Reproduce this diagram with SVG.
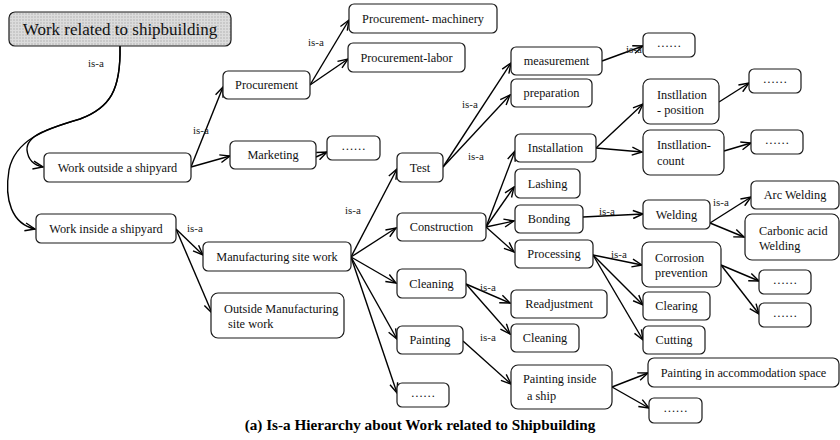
<svg xmlns="http://www.w3.org/2000/svg" width="840" height="440" viewBox="0 0 840 440">
  <defs>
    <style>
      .box { fill: #ffffff; stroke: #1a1a1a; stroke-width: 1.2; }
      .t { font-family: "Liberation Serif", "Times New Roman", serif; font-size: 12.3px; fill: #111; }
      .c { text-anchor: middle; }
      .isa { font-family: "Liberation Serif", "Times New Roman", serif; font-size: 11px; fill: #222; }
      .edge { fill: none; stroke: #000; stroke-width: 1.4; marker-end: url(#arr); }
      .cap { font-family: "Liberation Serif", "Times New Roman", serif; font-size: 15.2px; font-weight: bold; fill: #000; text-anchor: middle; }
    </style>
    <marker id="arr" viewBox="0 0 12 10" refX="11" refY="5" markerWidth="12" markerHeight="10" orient="auto" markerUnits="userSpaceOnUse">
      <path d="M1,1 L11,5 L1,9" fill="none" stroke="#000" stroke-width="1.4"/>
    </marker>
    <pattern id="grid" width="3" height="3" patternUnits="userSpaceOnUse">
      <rect width="3" height="3" fill="#c9c9c9"/>
      <path d="M0,0.5 H3 M0.5,0 V3" stroke="#dcdcdc" stroke-width="1"/>
    </pattern>
  </defs>

  <rect width="840" height="440" fill="#ffffff"/>

  <!-- connectors -->
  <g id="connectors">
    <path class="edge" d="M120,46 C121,90 110,108 80,119 C50,128 26,135 27,150 C28,160 33,165 43,167"/>
    <path class="edge" d="M120,46 C121,90 110,108 80,119 C45,129 15,140 9,170 C4,200 12,224 35,229"/>
    <path class="edge" d="M191,167 L223,87"/>
    <path class="edge" d="M191,167 L230,156"/>
    <path class="edge" d="M310,85 L349,20"/>
    <path class="edge" d="M310,85 L348,59"/>
    <path class="edge" d="M316,157 L327,152"/>
    <path class="edge" d="M176,229 L203,255"/>
    <path class="edge" d="M176,229 L212,313"/>
    <path class="edge" d="M351,257 L397,169"/>
    <path class="edge" d="M351,257 L396,228"/>
    <path class="edge" d="M351,257 L396,283"/>
    <path class="edge" d="M351,257 L397,339"/>
    <path class="edge" d="M351,257 L397,393"/>
    <path class="edge" d="M443,167 L511,63"/>
    <path class="edge" d="M443,167 L510,95"/>
    <path class="edge" d="M602,61 L643,46"/>
    <path class="edge" d="M486,227 L515,151"/>
    <path class="edge" d="M486,227 L514,187"/>
    <path class="edge" d="M486,227 L514,221"/>
    <path class="edge" d="M486,227 L514,252"/>
    <path class="edge" d="M596,148 L643,104"/>
    <path class="edge" d="M596,148 L642,152"/>
    <path class="edge" d="M719,102 L749,83"/>
    <path class="edge" d="M724,151 L751,143"/>
    <path class="edge" d="M583,217 L643,214"/>
    <path class="edge" d="M710,223 L751,197"/>
    <path class="edge" d="M710,223 L744,237"/>
    <path class="edge" d="M593,255 L642,265"/>
    <path class="edge" d="M593,255 L643,305"/>
    <path class="edge" d="M593,255 L643,340"/>
    <path class="edge" d="M721,265 L759,281"/>
    <path class="edge" d="M721,265 L759,314"/>
    <path class="edge" d="M466,284 L510,303"/>
    <path class="edge" d="M466,284 L510,334"/>
    <path class="edge" d="M463,341 L511,384"/>
    <path class="edge" d="M612,387 L648,373"/>
    <path class="edge" d="M612,387 L649,408"/>

    <text class="isa" x="88" y="67">is-a</text>
    <text class="isa" x="193" y="134">is-a</text>
    <text class="isa" x="308" y="46">is-a</text>
    <text class="isa" x="187" y="232">is-a</text>
    <text class="isa" x="345" y="214">is-a</text>
    <text class="isa" x="462" y="108">is-a</text>
    <text class="isa" x="468" y="160">is-a</text>
    <text class="isa" x="626" y="53">is-a</text>
    <text class="isa" x="599" y="215">is-a</text>
    <text class="isa" x="713" y="206">is-a</text>
    <text class="isa" x="611" y="258">is-a</text>
    <text class="isa" x="480" y="291">is-a</text>
    <text class="isa" x="480" y="341">is-a</text>
  </g>

  <!-- nodes -->
  <g id="root">
    <rect x="9" y="12" width="222" height="34" rx="6" fill="url(#grid)" stroke="#1a1a1a" stroke-width="1.2"/>
    <text class="t c" x="120" y="35" style="font-size:17px">Work related to shipbuilding</text>
  </g>
  <g id="procurement">
    <rect class="box" x="223" y="71" width="87" height="28" rx="5"/>
    <text class="t c" x="266.5" y="89">Procurement</text>
  </g>
  <g id="procurement-machinery">
    <rect class="box" x="349" y="4" width="148" height="29" rx="5"/>
    <text class="t c" x="423" y="23">Procurement- machinery</text>
  </g>
  <g id="procurement-labor">
    <rect class="box" x="348" y="43" width="117" height="29" rx="5"/>
    <text class="t c" x="406.5" y="62">Procurement-labor</text>
  </g>
  <g id="marketing">
    <rect class="box" x="230" y="141" width="86" height="28" rx="5"/>
    <text class="t c" x="273" y="159">Marketing</text>
  </g>
  <g id="marketing-more">
    <rect class="box" x="327" y="136" width="53" height="24" rx="5"/>
    <text class="t c" x="353.5" y="150">……</text>
  </g>
  <g id="work-outside">
    <rect class="box" x="44" y="153" width="147" height="29" rx="5"/>
    <text class="t c" x="117.5" y="172">Work outside a shipyard</text>
  </g>
  <g id="work-inside">
    <rect class="box" x="36" y="214" width="140" height="29" rx="5"/>
    <text class="t c" x="106" y="233">Work inside a shipyard</text>
  </g>
  <g id="manufacturing-site">
    <rect class="box" x="203" y="242" width="148" height="29" rx="5"/>
    <text class="t c" x="277" y="261">Manufacturing site work</text>
  </g>
  <g id="outside-manufacturing">
    <rect class="box" x="211" y="293" width="133" height="45" rx="7"/>
    <text class="t" x="224" y="313">Outside Manufacturing</text>
    <text class="t" x="228" y="328">site work</text>
  </g>
  <g id="test">
    <rect class="box" x="397" y="153" width="46" height="29" rx="5"/>
    <text class="t c" x="420" y="172">Test</text>
  </g>
  <g id="construction">
    <rect class="box" x="397" y="213" width="89" height="28" rx="5"/>
    <text class="t c" x="441.5" y="231">Construction</text>
  </g>
  <g id="cleaning">
    <rect class="box" x="397" y="269" width="69" height="29" rx="5"/>
    <text class="t c" x="431.5" y="288">Cleaning</text>
  </g>
  <g id="painting">
    <rect class="box" x="397" y="326" width="66" height="28" rx="5"/>
    <text class="t c" x="430" y="344">Painting</text>
  </g>
  <g id="site-more">
    <rect class="box" x="397" y="383" width="52" height="24" rx="5"/>
    <text class="t c" x="423" y="397">……</text>
  </g>
  <g id="measurement">
    <rect class="box" x="511" y="47" width="91" height="28" rx="5"/>
    <text class="t c" x="556.5" y="65">measurement</text>
  </g>
  <g id="preparation">
    <rect class="box" x="511" y="79" width="81" height="28" rx="5"/>
    <text class="t c" x="551.5" y="97">preparation</text>
  </g>
  <g id="measurement-more">
    <rect class="box" x="643" y="33" width="52" height="24" rx="5"/>
    <text class="t c" x="669" y="47">……</text>
  </g>
  <g id="installation">
    <rect class="box" x="515" y="134" width="81" height="28" rx="5"/>
    <text class="t c" x="555.5" y="152">Installation</text>
  </g>
  <g id="lashing">
    <rect class="box" x="515" y="169" width="65" height="29" rx="5"/>
    <text class="t c" x="547.5" y="188">Lashing</text>
  </g>
  <g id="bonding">
    <rect class="box" x="515" y="205" width="68" height="28" rx="5"/>
    <text class="t c" x="549" y="223">Bonding</text>
  </g>
  <g id="processing">
    <rect class="box" x="515" y="240" width="78" height="28" rx="5"/>
    <text class="t c" x="554" y="258">Processing</text>
  </g>
  <g id="readjustment">
    <rect class="box" x="511" y="290" width="96" height="28" rx="5"/>
    <text class="t c" x="559" y="308">Readjustment</text>
  </g>
  <g id="cleaning-sub">
    <rect class="box" x="511" y="324" width="68" height="28" rx="5"/>
    <text class="t c" x="545" y="342">Cleaning</text>
  </g>
  <g id="painting-inside">
    <rect class="box" x="511" y="365" width="101" height="44" rx="7"/>
    <text class="t" x="523" y="383">Painting inside</text>
    <text class="t" x="527" y="400">a ship</text>
  </g>
  <g id="installation-position">
    <rect class="box" x="643" y="79" width="76" height="45" rx="7"/>
    <text class="t" x="657" y="99">Instllation</text>
    <text class="t" x="657" y="114">- position</text>
  </g>
  <g id="position-more">
    <rect class="box" x="749" y="69" width="52" height="24" rx="5"/>
    <text class="t c" x="775" y="83">……</text>
  </g>
  <g id="installation-count">
    <rect class="box" x="643" y="130" width="81" height="45" rx="7"/>
    <text class="t" x="657" y="149">Instllation-</text>
    <text class="t" x="657" y="165">count</text>
  </g>
  <g id="count-more">
    <rect class="box" x="751" y="130" width="52" height="24" rx="5"/>
    <text class="t c" x="777" y="144">……</text>
  </g>
  <g id="welding">
    <rect class="box" x="643" y="200" width="67" height="29" rx="5"/>
    <text class="t c" x="676.5" y="219">Welding</text>
  </g>
  <g id="arc-welding">
    <rect class="box" x="751" y="181" width="88" height="28" rx="5"/>
    <text class="t c" x="795" y="199">Arc Welding</text>
  </g>
  <g id="carbonic-welding">
    <rect class="box" x="745" y="214" width="94" height="46" rx="7"/>
    <text class="t" x="759" y="235">Carbonic acid</text>
    <text class="t" x="759" y="250">Welding</text>
  </g>
  <g id="corrosion-prevention">
    <rect class="box" x="642" y="242" width="79" height="45" rx="7"/>
    <text class="t" x="655" y="262">Corrosion</text>
    <text class="t" x="655" y="277">prevention</text>
  </g>
  <g id="corrosion-more-1">
    <rect class="box" x="759" y="270" width="52" height="24" rx="5"/>
    <text class="t c" x="785" y="284">……</text>
  </g>
  <g id="corrosion-more-2">
    <rect class="box" x="759" y="303" width="52" height="24" rx="5"/>
    <text class="t c" x="785" y="317">……</text>
  </g>
  <g id="clearing">
    <rect class="box" x="643" y="292" width="67" height="28" rx="5"/>
    <text class="t c" x="676.5" y="310">Clearing</text>
  </g>
  <g id="cutting">
    <rect class="box" x="643" y="326" width="62" height="28" rx="5"/>
    <text class="t c" x="674" y="344">Cutting</text>
  </g>
  <g id="accommodation">
    <rect class="box" x="648" y="358" width="191" height="29" rx="6"/>
    <text class="t c" x="743.5" y="377">Painting in accommodation space</text>
  </g>
  <g id="painting-inside-more">
    <rect class="box" x="649" y="398" width="53" height="25" rx="5"/>
    <text class="t c" x="675.5" y="412">……</text>
  </g>

  <text class="cap" x="420" y="430">(a) Is-a Hierarchy about Work related to Shipbuilding</text>
</svg>
